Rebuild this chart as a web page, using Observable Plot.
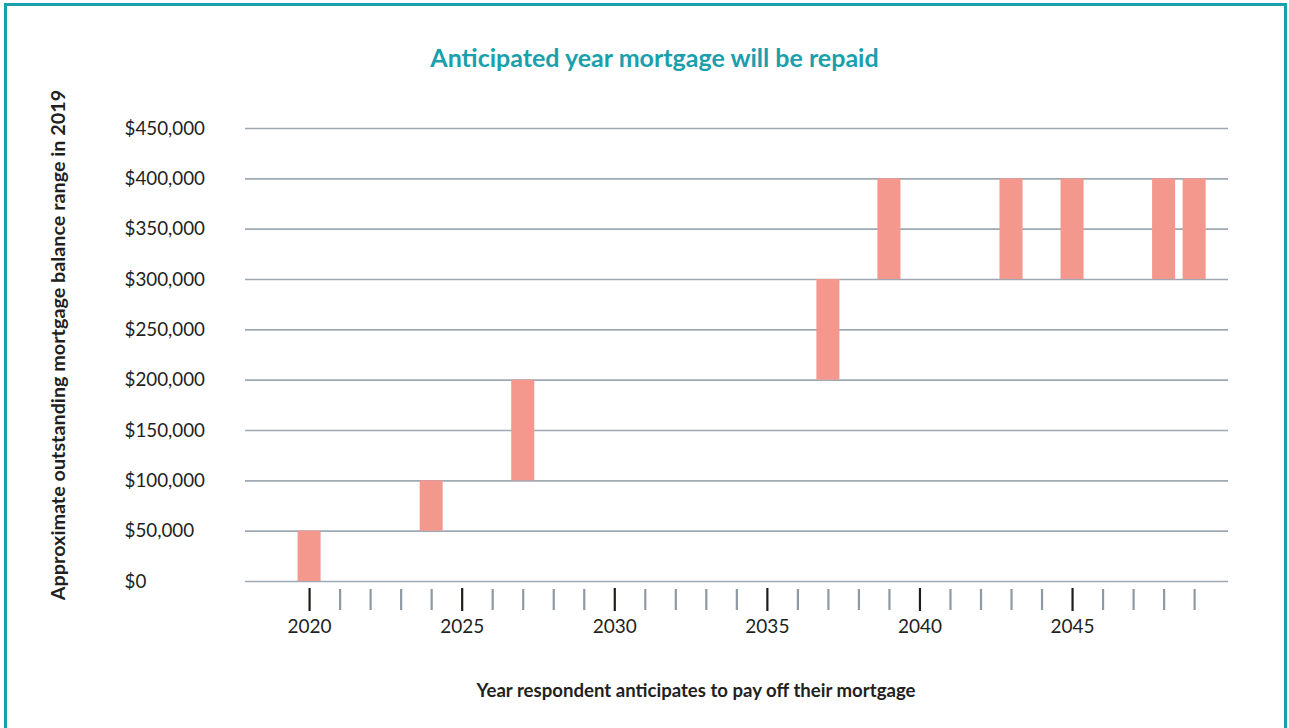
<!DOCTYPE html>
<html>
<head>
<meta charset="utf-8">
<script src="https://cdn.jsdelivr.net/npm/d3@7"></script>
<script src="https://cdn.jsdelivr.net/npm/@observablehq/plot@0.6"></script>
<style>
  html, body { margin: 0; padding: 0; background: #fff; }
  #page { position: relative; width: 1289px; height: 728px; overflow: hidden; font-family: Lato, "Open Sans", sans-serif; }
  #frame { position: absolute; left: 4px; top: 3px; width: 1283px; height: 800px; border: 3px solid #1a9fad; box-sizing: border-box; }
  #title { position: absolute; left: 10px; top: 42px; width: 1289px; text-align: center; color: #1a9fad; font-weight: 700; font-size: 25px; line-height: 30px; }
  #chart { position: absolute; left: 0; top: 72px; }
</style>
</head>
<body>
<div id="page">
  <div id="frame"></div>
  <div id="title">Anticipated year mortgage will be repaid</div>
  <div id="chart"></div>
</div>
<script>
const years = [2020, 2024, 2027, 2037, 2039, 2043, 2045, 2048, 2049];
const lows  = [0, 50000, 100000, 200000, 300000, 300000, 300000, 300000, 300000];
const highs = [50000, 100000, 200000, 300000, 400000, 400000, 400000, 400000, 400000];
const yTicks = [0, 50000, 100000, 150000, 200000, 250000, 300000, 350000, 400000, 450000];
const majorYears = [2020, 2025, 2030, 2035, 2040, 2045];
const minorYears = [2021, 2022, 2023, 2024, 2026, 2027, 2028, 2029, 2031, 2032, 2033, 2034,
                    2036, 2037, 2038, 2039, 2041, 2042, 2043, 2044, 2046, 2047, 2048, 2049];
const xLabel = "Year respondent anticipates to pay off their mortgage";
const yLabel = "Approximate outstanding mortgage balance range in 2019";

const data = years.map((year, i) => ({year, low: lows[i], high: highs[i]}));
const fmt = d3.format(",");

const chart = Plot.plot({
  width: 1289,
  height: 656,
  marginLeft: 245,
  marginRight: 61,
  marginTop: 56,
  marginBottom: 147,
  style: {fontFamily: "Lato, 'Open Sans', sans-serif", background: "transparent"},
  x: {domain: [2017.9, 2050.11], label: null},
  y: {domain: [0, 450000], label: null},
  marks: [
    Plot.gridY(yTicks, {stroke: "#9ea8b3", strokeOpacity: 1, strokeWidth: 1.6}),
    Plot.rectY(data, {
      x1: d => d.year - 0.5, x2: d => d.year + 0.5,
      y1: "low", y2: "high",
      insetLeft: 3.75, insetRight: 3.75,
      fill: "#f4978c"
    }),
    Plot.axisY(yTicks, {
      tickSize: 0, tickPadding: 121, textAnchor: "start",
      tickFormat: d => "$" + fmt(d), fontSize: 18.8, fill: "#231f20", label: null
    }),
    Plot.axisX(minorYears, {tickSize: 21, dy: 8, stroke: "#8d99a5", strokeWidth: 2.2, fill: "none", label: null}),
    Plot.axisX(majorYears, {tickSize: 23, dy: 7, stroke: "#1d1d1b", strokeWidth: 2.2, fill: "none", label: null}),
    Plot.axisX(majorYears, {tickSize: 0, tickPadding: 38, tickFormat: d => String(d), fontSize: 19, fill: "#231f20", label: null}),
    Plot.text([xLabel], {frameAnchor: "bottom", dx: -41, dy: 115, fontSize: 18.6, fontWeight: "bold", fill: "#231f20"}),
    Plot.text([yLabel], {frameAnchor: "left", textAnchor: "middle", lineAnchor: "middle", rotate: -90, dx: -187, dy: -10, fontSize: 19.8, fontWeight: "bold", fill: "#231f20"})
  ]
});
document.getElementById("chart").appendChild(chart);
</script>
</body>
</html>
